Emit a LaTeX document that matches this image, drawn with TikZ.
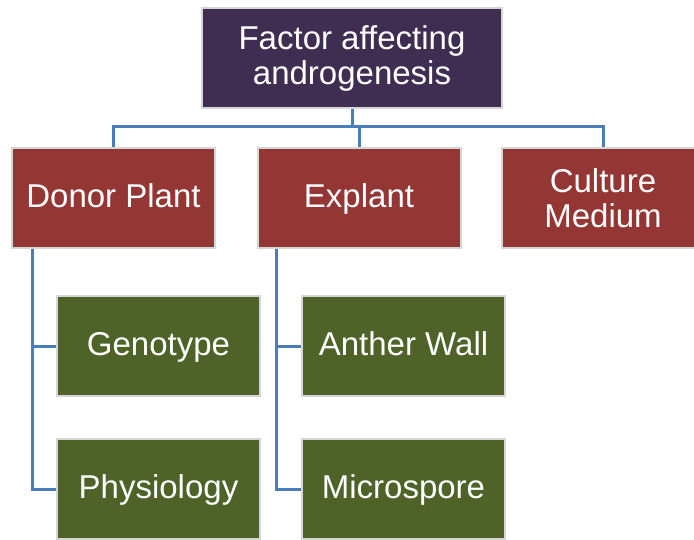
\documentclass[tikz,border=0pt]{standalone}
\usepackage{fontspec}
\setsansfont{Liberation Sans}
\definecolor{FactorPurple}{HTML}{3F2D52}
\definecolor{FactorRed}{HTML}{943634}
\definecolor{FactorGreen}{HTML}{4F6228}
\definecolor{LinkBlue}{HTML}{4A7EBB}
\definecolor{EdgeGray}{HTML}{D6D6D6}

\begin{document}
\begin{tikzpicture}[x=1pt,y=-1pt,font=\sffamily\fontsize{33}{35}\selectfont,
  box/.style={draw=EdgeGray,line width=2pt,text=white,align=center,inner sep=0pt,minimum width=203pt,minimum height=100pt},
  oneline/.style={box,text height=26pt,text depth=7pt},
  link/.style={draw=LinkBlue,line width=3pt}]
  \useasboundingbox (0,0) rectangle (694,540);
  \clip (0,0) rectangle (694,540);

  % Root and first level, placed by pixel centres.
  \node[box,fill=FactorPurple,minimum width=300pt] (root) at (352,58) {Factor affecting\\androgenesis};
  \node[oneline,fill=FactorRed] (donor) at (113.5,198) {Donor Plant};
  \node[oneline,fill=FactorRed] (explant) at (359,198) {Explant};
  \node[box,fill=FactorRed] (medium) at (603,198) {Culture\\Medium};

  % Second level under Donor Plant and Explant.
  \node[oneline,fill=FactorGreen] (genotype) at (158.5,346) {Genotype};
  \node[oneline,fill=FactorGreen] (physio) at (158.5,489) {Physiology};
  \node[oneline,fill=FactorGreen] (anther) at (403.5,346) {Anther Wall};
  \node[oneline,fill=FactorGreen] (micro) at (403.5,489) {Microspore};

  \coordinate (bus) at (352,127);
  \draw[link] (root.south) -- (bus);
  \draw[link] (bus) -| (donor.north);
  \draw[link] (bus) -| (explant.north);
  \draw[link] (bus) -| (medium.north);

  \draw[link] ([xshift=21pt]donor.south west) |- (genotype.west);
  \draw[link] ([xshift=21pt]donor.south west) |- (physio.west);
  \draw[link] ([xshift=20pt]explant.south west) |- (anther.west);
  \draw[link] ([xshift=20pt]explant.south west) |- (micro.west);
\end{tikzpicture}
\end{document}
